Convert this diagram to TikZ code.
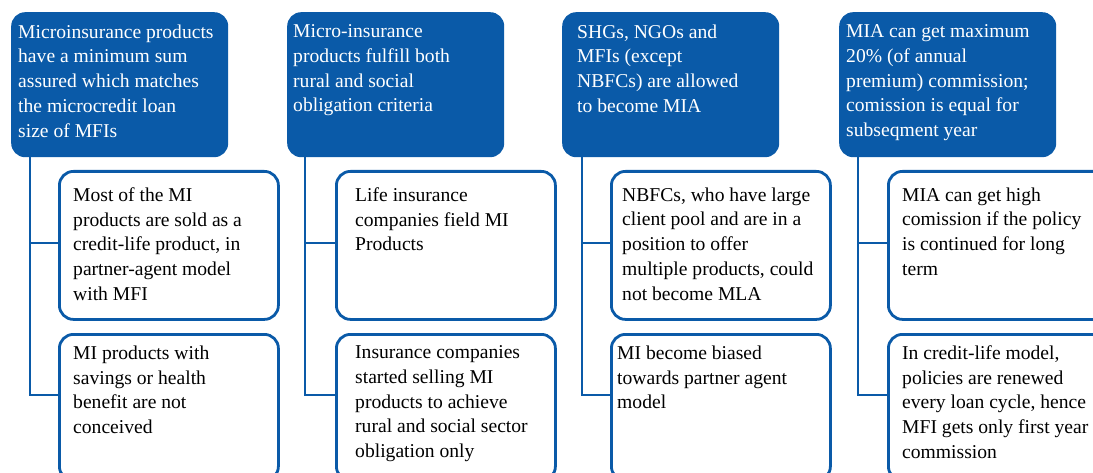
\documentclass[tikz,border=0pt]{standalone}
\usepackage{fontspec}
\setmainfont{Liberation Serif}
\definecolor{miblue}{RGB}{10,90,168}
\begin{document}
\begin{tikzpicture}[x=1pt,y=-1pt,
  bluebox/.style={fill=miblue, rounded corners=14pt, inner sep=0pt, anchor=north west, minimum width=217pt, minimum height=145pt},
  whitebox/.style={draw=miblue, line width=2.8pt, fill=white, rounded corners=14pt, inner sep=0pt, anchor=north west, minimum width=219pt},
  boxA/.style={whitebox, minimum height=148pt},
  boxB/.style={whitebox, minimum height=146pt},
  txt/.style={font=\fontsize{19.6}{24.7}\selectfont, align=left, anchor=north west, inner sep=0pt, yshift=12.5pt, execute at begin node={\strut}},
  bluetxt/.style={txt, text=white},
  whitetxt/.style={txt, text=black},
  link/.style={draw=miblue, line width=2.8pt}]
\useasboundingbox (0,0) rectangle (1093,473);
\clip (0,0) rectangle (1093,473);

% ---------- column 1
\node[bluebox] (b1) at (11,12) {};
\node[boxA] (w11) at (58,170) {};
\node[boxB] (w12) at (58,333) {};
\coordinate (j1a) at (30,243);
\coordinate (j1b) at (30,395);
\draw[link] (b1.south -| j1a) -- (j1b) -- (j1b -| w12.west);
\draw[link] (j1a) -- (j1a -| w11.west);
\node[bluetxt] (t1) at (18,37) {Microinsurance products\\have a minimum sum\\assured which matches\\the microcredit loan\\size of MFIs};
\node[whitetxt] (t11) at (73,200) {Most of the MI\\products are sold as a\\credit-life product, in\\partner-agent model\\with MFI};
\node[whitetxt] (t12) at (73,358) {MI products with\\savings or health\\benefit are not\\conceived};

% ---------- column 2
\node[bluebox] (b2) at (287,12) {};
\node[boxA] (w21) at (335,170) {};
\node[boxB] (w22) at (335,333) {};
\coordinate (j2a) at (305,243);
\coordinate (j2b) at (305,395);
\draw[link] (b2.south -| j2a) -- (j2b) -- (j2b -| w22.west);
\draw[link] (j2a) -- (j2a -| w21.west);
\node[bluetxt] (t2) at (293,37) {Micro-insurance\\products fulfill both\\rural and social\\obligation criteria};
\node[whitetxt] (t21) at (355,200) {Life insurance\\companies field MI\\Products};
\node[whitetxt] (t22) at (355,358) {Insurance companies\\started selling MI\\products to achieve\\rural and social sector\\obligation only};

% ---------- column 3
\node[bluebox] (b3) at (562,12) {};
\node[boxA] (w31) at (610,170) {};
\node[boxB] (w32) at (610,333) {};
\coordinate (j3a) at (582,243);
\coordinate (j3b) at (582,395);
\draw[link] (b3.south -| j3a) -- (j3b) -- (j3b -| w32.west);
\draw[link] (j3a) -- (j3a -| w31.west);
\node[bluetxt] (t3) at (577,37) {SHGs, NGOs and\\MFIs (except\\NBFCs) are allowed\\to become MIA};
\node[whitetxt] (t31) at (622,200) {NBFCs, who have large\\client pool and are in a\\position to offer\\multiple products, could\\not become MLA};
\node[whitetxt] (t32) at (617,358) {MI become biased\\towards partner agent\\model};

% ---------- column 4
\node[bluebox] (b4) at (839,12) {};
\node[boxA] (w41) at (887,170) {};
\node[boxB] (w42) at (887,333) {};
\coordinate (j4a) at (858,243);
\coordinate (j4b) at (858,395);
\draw[link] (b4.south -| j4a) -- (j4b) -- (j4b -| w42.west);
\draw[link] (j4a) -- (j4a -| w41.west);
\node[bluetxt] (t4) at (846,37) {MIA can get maximum\\20\% (of annual\\premium) commission;\\comission is equal for\\subseqment year};
\node[whitetxt] (t41) at (902,200) {MIA can get high\\comission if the policy\\is continued for long\\term};
\node[whitetxt] (t42) at (902,358) {In credit-life model,\\policies are renewed\\every loan cycle, hence\\MFI gets only first year\\commission};
\end{tikzpicture}
\end{document}
